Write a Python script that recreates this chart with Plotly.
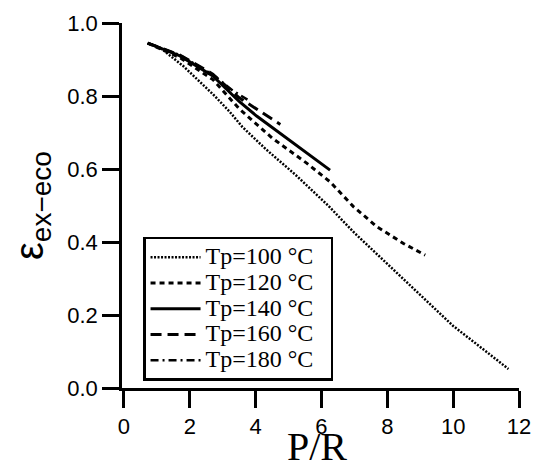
import plotly.graph_objects as go

# ---- data ----
x_tp100 = [0.72, 1.1, 1.8, 2.7, 3.2, 3.6, 4.3, 5.2, 6.2, 7.0, 8.0, 9.0, 10.0, 11.0, 11.68]
y_tp100 = [0.945, 0.932, 0.882, 0.805, 0.758, 0.715, 0.655, 0.585, 0.50, 0.425, 0.34, 0.255, 0.17, 0.10, 0.052]

x_tp120 = [0.72, 1.7, 2.7, 3.5, 4.5, 5.55, 6.26, 6.97, 7.68, 8.49, 9.15]
y_tp120 = [0.945, 0.905, 0.845, 0.765, 0.685, 0.616, 0.565, 0.497, 0.442, 0.396, 0.364]

x_tp140 = [0.72, 1.7, 2.7, 3.5, 4.03, 4.74, 5.55, 6.26]
y_tp140 = [0.945, 0.91, 0.855, 0.785, 0.745, 0.698, 0.643, 0.597]

x_tp160 = [0.72, 1.7, 2.7, 3.5, 4.1, 4.75]
y_tp160 = [0.945, 0.912, 0.86, 0.795, 0.76, 0.722]

x_tp180 = [0.72, 1.7, 2.7, 3.3, 3.75]
y_tp180 = [0.945, 0.912, 0.858, 0.815, 0.79]

series_names = ["Tp=100 °C", "Tp=120 °C", "Tp=140 °C", "Tp=160 °C", "Tp=180 °C"]
x_ticks = [0, 2, 4, 6, 8, 10, 12]
y_ticks = [0.0, 0.2, 0.4, 0.6, 0.8, 1.0]
y_tick_labels = ["0.0", "0.2", "0.4", "0.6", "0.8", "1.0"]

series_x = [x_tp100, x_tp120, x_tp140, x_tp160, x_tp180]
series_y = [y_tp100, y_tp120, y_tp140, y_tp160, y_tp180]
styles = [
    dict(dash="2px,1.5px", width=2.5),
    dict(dash="5px,4px", width=3),
    dict(dash="solid", width=3),
    dict(dash="11px,6px", width=3),
    dict(dash="8px,4px,2px,4px", width=2.5),
]

fig = go.Figure()
for xs, ys, name, st in zip(series_x, series_y, series_names, styles):
    fig.add_trace(go.Scatter(x=xs, y=ys, mode="lines",
                             name='<span style="font-size:24px">' + name + '&nbsp;&nbsp;</span>',
                             line=dict(color="black", **st)))

fig.update_layout(
    width=532, height=459,
    margin=dict(l=114, r=21, t=15, b=79, autoexpand=False),
    paper_bgcolor="white", plot_bgcolor="white",
    showlegend=True,
    legend=dict(x=0.053, y=0.414, xanchor="left", yanchor="top",
                bordercolor="black", borderwidth=2.5, bgcolor="white",
                font=dict(family="Liberation Serif", size=17.5, color="black"),
                itemwidth=50, tracegroupgap=0),
    font=dict(family="Liberation Sans", color="black"),
)
fig.update_xaxes(range=[-0.06, 12], tickvals=x_ticks, ticktext=[str(v) for v in x_ticks],
                 automargin=False,
                 showgrid=False, zeroline=False, showline=True, linecolor="black", linewidth=2.5,
                 ticks="outside", ticklen=17, tickwidth=2.5, tickcolor="black",
                 tickfont=dict(size=22, family="Liberation Sans", color="black"))
fig.update_yaxes(range=[0, 1], tickvals=y_ticks, ticktext=y_tick_labels,
                 automargin=False,
                 showgrid=False, zeroline=False, showline=True, linecolor="black", linewidth=2.5,
                 ticks="outside", ticklen=17, tickwidth=2.5, tickcolor="black",
                 tickfont=dict(size=22, family="Liberation Sans", color="black"))
fig.add_annotation(text="P/R", xref="paper", yref="paper",
                   x=0.49, y=-0.16, xanchor="center", yanchor="middle",
                   showarrow=False,
                   font=dict(family="Liberation Serif", size=40, color="black"))
fig.add_annotation(text="ε<sub>ex−eco</sub>", xref="paper", yref="paper",
                   x=-0.228, y=0.5, xanchor="center", yanchor="middle",
                   textangle=-90, showarrow=False,
                   font=dict(family="Liberation Sans", size=40, color="black"))

fig.write_html("out.html")
